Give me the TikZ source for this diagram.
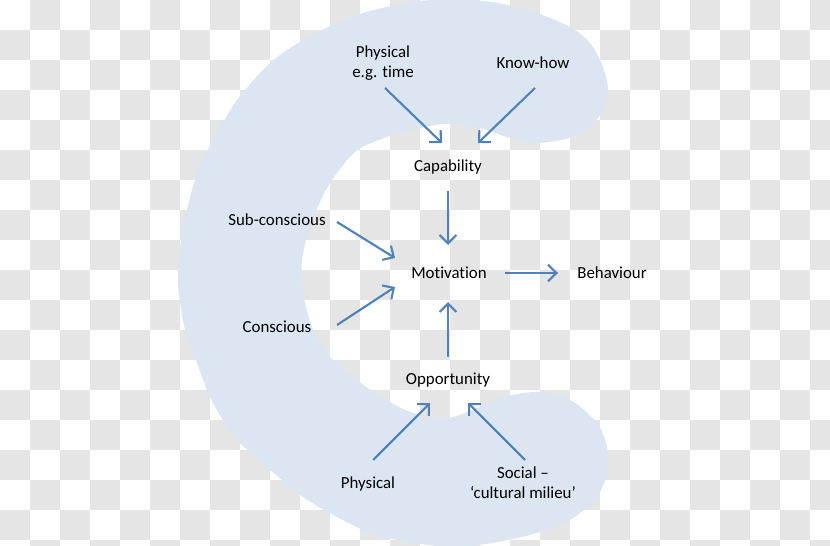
\documentclass[tikz,border=0pt]{standalone}
\usepackage{fontspec}
\setmainfont[Ligatures=NoCommon]{Carlito}
\usepackage{tikz}
\usetikzlibrary{arrows.meta}

\definecolor{cfill}{RGB}{220,230,242}
\definecolor{carrow}{RGB}{79,129,189}
\definecolor{cgrid}{RGB}{229,229,229}

\tikzset{
	lbl/.style={inner sep=0pt, align=center, font=\fontsize{9.6}{11.3}\selectfont},
	pfeil/.style={carrow, line width=1.2pt, -{Straight Barb[length=4.8pt, width=9.5pt]}},
}

\begin{document}
\begin{tikzpicture}[x=0.02cm, y=-0.02cm]

	\useasboundingbox (0,0) rectangle (830,546);
	\clip (0,0) rectangle (830,546);

	% Hintergrund (Karomuster)
	\foreach \i in {0,...,27}{
		\foreach \j in {0,...,18}{
			\pgfmathtruncatemacro\k{mod(\i+\j,2)}
			\ifnum\k=1 \fill[cgrid] (\i*30,\j*30) rectangle ++(30,30); \fi
		}
	}

	% C-Form
	\fill[cfill] plot[smooth cycle, tension=0.5] coordinates {
		(178,283) (181,240) (190,197) (200,167) (213,140) (237,100) (270,63)
		(303,40) (337,23) (370,11) (420,1) (470,0) (503,4) (537,13) (570,27)
		(590,43) (603,67) (608,90) (603,110) (590,127) (570,138) (537,143)
		(510,138) (487,130) (463,125) (443,124) (420,128) (387,137) (355,152)
		(327,188) (310,227) (302,260) (303,292) (313,330) (330,357) (357,380)
		(375,393) (403,409) (430,418) (453,417) (480,407) (503,397) (537,392)
		(570,400) (597,423) (607,447) (608,470) (597,497) (570,520) (537,533)
		(503,541) (470,546) (437,546) (403,541) (370,533) (337,517) (303,497)
		(270,470) (240,443) (223,420) (210,397) (197,363) (185,330)};

	\node[lbl](physA) at (383,63) {Physical\\e.g. time};
	\node[lbl](know) at (533,63) {Know-how};
	\node[lbl](cap) at (448,167) {Capability};
	\node[lbl](sub) at (277,220) {Sub-conscious};
	\node[lbl](mot) at (449,273) {Motivation};
	\node[lbl](beh) at (612,273) {Behaviour};
	\node[lbl](con) at (277,327) {Conscious};
	\node[lbl](opp) at (448,380) {Opportunity};
	\node[lbl](physB) at (368,484) {Physical};
	\node[lbl](soc) at (523,483) {Social –\\‘cultural milieu’};

	\coordinate (physA_start) at (385,88);
	\coordinate (physA_ende) at (442,143);
	\coordinate (know_start) at (535,88);
	\coordinate (know_ende) at (478,143);
	\coordinate (cap_start) at (448,191);
	\coordinate (cap_ende) at (448,245);
	\coordinate (sub_start) at (337,222);
	\coordinate (sub_ende) at (395,258);
	\coordinate (con_start) at (337,325);
	\coordinate (con_ende) at (395,287);
	\coordinate (opp_start) at (448,357);
	\coordinate (opp_ende) at (448,302);
	\coordinate (mot_start) at (505,273);
	\coordinate (mot_ende) at (558,273);
	\coordinate (physB_start) at (373,460);
	\coordinate (physB_ende) at (430,403);
	\coordinate (soc_start) at (525,460);
	\coordinate (soc_ende) at (468,403);

	% Pfeile
	\draw[pfeil] (physA_start) -- (physA_ende);
	\draw[pfeil] (know_start) -- (know_ende);
	\draw[pfeil] (cap_start) -- (cap_ende);
	\draw[pfeil] (sub_start) -- (sub_ende);
	\draw[pfeil] (con_start) -- (con_ende);
	\draw[pfeil] (opp_start) -- (opp_ende);
	\draw[pfeil] (mot_start) -- (mot_ende);
	\draw[pfeil] (physB_start) -- (physB_ende);
	\draw[pfeil] (soc_start) -- (soc_ende);
\end{tikzpicture}
\end{document}
